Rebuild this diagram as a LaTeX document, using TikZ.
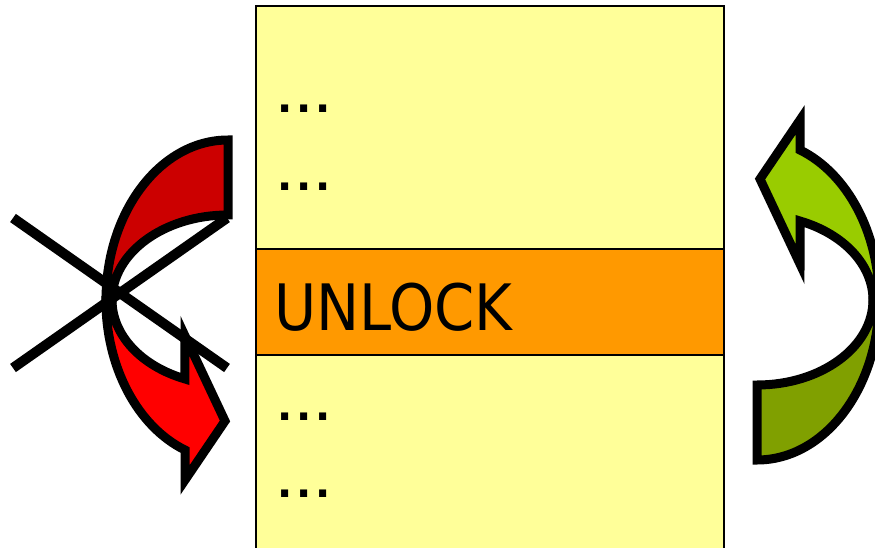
\documentclass[tikz,border=0pt]{standalone}
\usepackage{fontspec}
\newfontfamily\stackfont{DejaVu Sans Condensed}
\newfontfamily\dotsfont{DejaVu Sans}
\usepackage{tikz}
\usetikzlibrary{positioning}

\definecolor{slotyellow}{HTML}{FFFF99}
\definecolor{lockorange}{HTML}{FF9900}
\definecolor{redback}{HTML}{CC0000}
\definecolor{redfront}{HTML}{FF0000}
\definecolor{greenback}{HTML}{80A000}
\definecolor{greenfront}{HTML}{99CC00}

\tikzset{
  % ribbon arrow bent round a centre, head at the lower end
  pics/bentarrow/.style 2 args={code={
    \filldraw[fill=#1] (0,-160) arc[start angle=270, end angle=180, x radius=122, y radius=160]
      -- (-116,0) arc[start angle=180, end angle=270, x radius=116, y radius=85] -- cycle;
    \filldraw[fill=#2] (-116,0) arc[start angle=180, end angle=111.8, x radius=116, y radius=85]
      -- (-43,36) -- (-3,121) -- (-43,180) -- (-43,150)
      arc[start angle=110.6, end angle=180, x radius=122, y radius=160] -- cycle;
  }}
}

\begin{document}
\begin{tikzpicture}[
  x=1pt, y=-1pt,
  slot/.style={draw=black, line width=2pt},
  entry/.style={inner sep=0pt, anchor=base west, font=\stackfont\fontsize{64}{64}\selectfont},
  more/.style={inner sep=0pt, anchor=base west, font=\dotsfont\bfseries\fontsize{40}{40}\selectfont},
  ribbon/.style={draw=black, line width=9pt, miter limit=10},
  cross/.style={draw=black, line width=10pt},
]
\clip (0,0) rectangle (875,548);

% the stack of operations
\filldraw[slot, fill=slotyellow] (256,6) rectangle (724,570);
\filldraw[slot, fill=lockorange] (256,249) rectangle (724,355);

\node[more] (dots1) at (277,113) {.\hspace{4pt}.\hspace{4pt}.};
\node[more] (dots2) at (277,190) {.\hspace{4pt}.\hspace{4pt}.};
\node[entry] (unlock) at (274,330) {UNLOCK};
\node[more] (dots3) at (277,420) {.\hspace{4pt}.\hspace{4pt}.};
\node[more] (dots4) at (277,497) {.\hspace{4pt}.\hspace{4pt}.};

% moving it up: allowed; moving it down: not
\pic[ribbon] (up) at (757,300) [rotate=180] {bentarrow={greenback}{greenfront}};
\pic[ribbon] (down) at (228,300) {bentarrow={redback}{redfront}};

\coordinate (xa) at (13,218);
\coordinate (xb) at (227,368);
\coordinate (xc) at (13,368);
\coordinate (xd) at (227,218);
\draw[cross] (xa) -- (xb);
\draw[cross] (xc) -- (xd);

\end{tikzpicture}
\end{document}
